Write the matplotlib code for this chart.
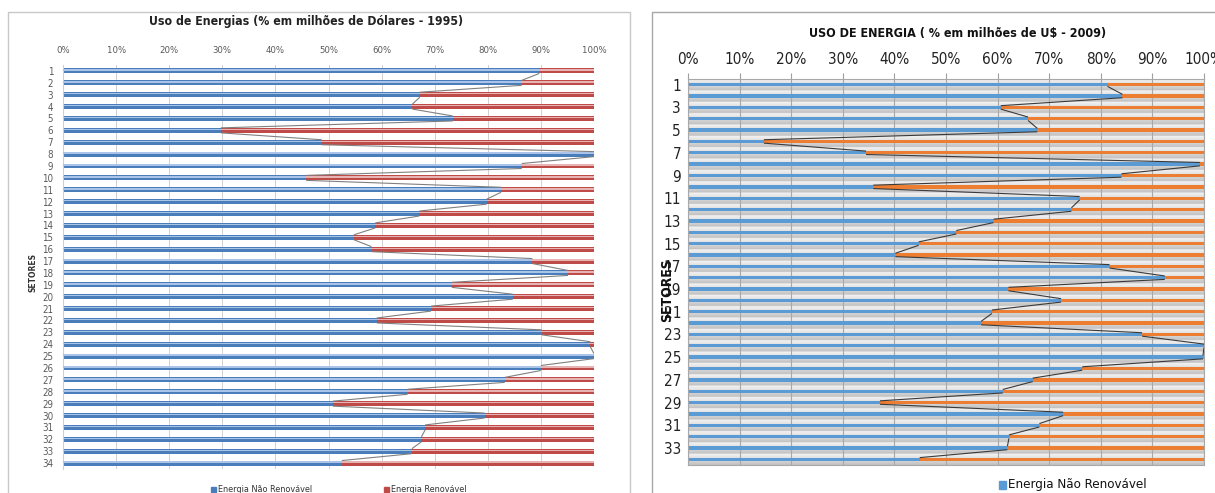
import numpy as np
import matplotlib
matplotlib.use("Agg")
import matplotlib.pyplot as plt
from matplotlib.patches import Rectangle
from matplotlib.collections import LineCollection
from matplotlib import font_manager

# Share of non-renewable energy use per sector (%), remainder is renewable
sectors = list(range(1, 35))
nao_renov_1995 = [89.7, 86.4, 67.2, 65.8, 73.4, 29.7, 48.7, 100.0, 86.4, 45.8,
                  82.5, 79.8, 67.1, 58.8, 54.8, 58.1, 88.4, 95.1, 73.2, 84.7,
                  69.3, 59.1, 90.2, 99.3, 100.0, 90.0, 83.2, 64.9, 50.8, 79.4,
                  68.2, 67.5, 65.7, 52.5]
nao_renov_2009 = [81.3, 84.2, 60.6, 65.9, 67.7, 14.7, 34.5, 99.2, 84.0, 35.9,
                  75.9, 74.3, 59.2, 52.0, 44.7, 40.2, 81.7, 92.4, 62.1, 72.3,
                  58.9, 56.8, 88.0, 100.0, 99.8, 76.4, 66.8, 61.0, 37.2, 72.7,
                  68.1, 62.2, 61.9, 44.9]
renov_1995 = [100 - v for v in nao_renov_1995]
renov_2009 = [100 - v for v in nao_renov_2009]
pct_ticks = list(range(0, 101, 10))
pct_labels = [f"{t}%" for t in pct_ticks]

W, H = 1215, 493
fig = plt.figure(figsize=(W / 100, H / 100), dpi=100)
fig.patch.set_facecolor("white")

# a condensed face when one is installed
_names = {f.name for f in font_manager.fontManager.ttflist}
if "Liberation Sans Narrow" in _names:
    NARROW = dict(family="Liberation Sans Narrow")
else:
    NARROW = dict(family="DejaVu Sans", stretch="condensed")


def box(x0, y0, x1, y1):
    """Axes rectangle from pixel coordinates (origin top-left)."""
    return [x0 / W, 1 - y1 / H, (x1 - x0) / W, (y1 - y0) / H]


def fx(x):
    return x / W


def fy(y):
    return 1 - y / H


def narrow(lab, size=None):
    lab.set_family(NARROW["family"])
    if "stretch" in NARROW:
        lab.set_stretch(NARROW["stretch"])
    if size:
        lab.set_size(size)


# chart frames
fig.patches.append(Rectangle((fx(8), fy(494)), fx(622), (494 - 12) / H,
                             transform=fig.transFigure, fill=False,
                             edgecolor="#c8c8c8", linewidth=1.0))
fig.patches.append(Rectangle((fx(652), fy(494)), fx(600), (494 - 12) / H,
                             transform=fig.transFigure, fill=False,
                             edgecolor="#a8a8a8", linewidth=1.0))

y = np.array(sectors, dtype=float)

# ---------------- 1995 ----------------
ax1 = fig.add_axes(box(63, 65, 594, 469))
h1 = 0.42
ax1.barh(y, nao_renov_1995, height=h1, color="#4A7EBB", zorder=2)
ax1.barh(y, renov_1995, left=nao_renov_1995, height=h1, color="#BE4B48", zorder=2)
# glossy highlight on each bar
ax1.barh(y - 0.08, nao_renov_1995, height=0.12, color="#A9C4E8", zorder=3)
ax1.barh(y - 0.08, renov_1995, left=nao_renov_1995, height=0.12,
         color="#E8B4B3", zorder=3)
segs1 = [[(nao_renov_1995[i], y[i] + h1 / 2), (nao_renov_1995[i + 1], y[i + 1] - h1 / 2)]
         for i in range(len(y) - 1)]
ax1.add_collection(LineCollection(segs1, colors="#808080", linewidths=0.8, zorder=4))
ax1.set_xlim(0, 100)
ax1.set_ylim(34.5, 0.5)
ax1.set_xticks(pct_ticks)
ax1.set_xticklabels(pct_labels)
ax1.set_yticks(sectors)
ax1.set_yticklabels([str(s) for s in sectors])
ax1.xaxis.tick_top()
ax1.tick_params(axis="x", length=0, labelsize=6.8, labelcolor="#595959", pad=7)
ax1.tick_params(axis="y", length=0, labelsize=7, labelcolor="#595959", pad=7)
for lab in ax1.get_xticklabels() + ax1.get_yticklabels():
    narrow(lab)
ax1.grid(axis="x", color="#d0d0d0", linewidth=0.7, zorder=0)
ax1.set_axisbelow(True)
for s in ax1.spines.values():
    s.set_visible(False)
ax1.spines["left"].set_visible(True)
ax1.spines["left"].set_color("#d0d0d0")

t = fig.text(fx(306), fy(22), "Uso de Energias (% em milhões de Dólares - 1995)",
             ha="center", va="center", fontsize=8.8, fontweight="bold", color="#222222")
narrow(t)
fig.text(fx(33), fy(273), "SETORES", rotation=90, ha="center", va="center",
         fontsize=5.5, fontweight="bold", color="#333333")
# legend
fig.patches.append(Rectangle((fx(211), fy(492)), 5 / W, 5 / H,
                             transform=fig.transFigure, color="#4A7EBB"))
t = fig.text(fx(218), fy(489.5), "Energia Não Renovável", ha="left", va="center",
             fontsize=6.5, color="#333333")
narrow(t)
fig.patches.append(Rectangle((fx(384), fy(492)), 5 / W, 5 / H,
                             transform=fig.transFigure, color="#BE4B48"))
t = fig.text(fx(391), fy(489.5), "Energia Renovável", ha="left", va="center",
             fontsize=6.5, color="#333333")
narrow(t)

# ---------------- 2009 ----------------
ax2 = fig.add_axes(box(688, 79, 1204, 465))
# shaded band behind each sector
rows = 24
band = np.tile(np.linspace(0.95, 0.76, rows), len(sectors)).reshape(-1, 1)
ax2.imshow(band, cmap="gray", vmin=0, vmax=1, aspect="auto",
           extent=[0, 100, 34.5, 0.5], interpolation="bilinear", zorder=0)
h2 = 0.3
ax2.barh(y, nao_renov_2009, height=h2, color="#5B9BD5", zorder=2)
ax2.barh(y, renov_2009, left=nao_renov_2009, height=h2, color="#ED7D31", zorder=2)
segs2 = [[(nao_renov_2009[i], y[i] + h2 / 2), (nao_renov_2009[i + 1], y[i + 1] - h2 / 2)]
         for i in range(len(y) - 1)]
ax2.add_collection(LineCollection(segs2, colors="#3a3a3a", linewidths=0.8, zorder=4))
ax2.set_xlim(0, 100)
ax2.set_ylim(34.5, 0.5)
ax2.set_xticks(pct_ticks)
ax2.set_xticklabels(pct_labels)
ax2.set_yticks(sectors[::2])
ax2.set_yticklabels([str(s) for s in sectors[::2]])
ax2.xaxis.tick_top()
ax2.tick_params(axis="x", length=4, color="#a0a0a0", labelsize=11,
                labelcolor="#222222", pad=5)
ax2.tick_params(axis="y", length=0, labelsize=11, labelcolor="#222222", pad=5)
for lab in ax2.get_xticklabels() + ax2.get_yticklabels():
    narrow(lab)
ax2.grid(axis="x", color="#a8a8a8", linewidth=0.8, zorder=1)
for s in ax2.spines.values():
    s.set_color("#a8a8a8")
    s.set_linewidth(0.8)

t = fig.text(fx(958), fy(33), "USO DE ENERGIA ( % em milhões de U$ - 2009)",
             ha="center", va="center", fontsize=9, fontweight="bold", color="#111111")
narrow(t)
t = fig.text(fx(667), fy(290), "SETORES", rotation=90, ha="center", va="center",
             fontsize=10, fontweight="bold", color="#111111")
narrow(t)
fig.patches.append(Rectangle((fx(999), fy(489)), 7 / W, 8 / H,
                             transform=fig.transFigure, color="#5B9BD5"))
t = fig.text(fx(1008), fy(484.5), "Energia Não Renovável", ha="left", va="center",
             fontsize=9.5, color="#111111")
narrow(t)

fig.savefig("out.png", dpi=100)
